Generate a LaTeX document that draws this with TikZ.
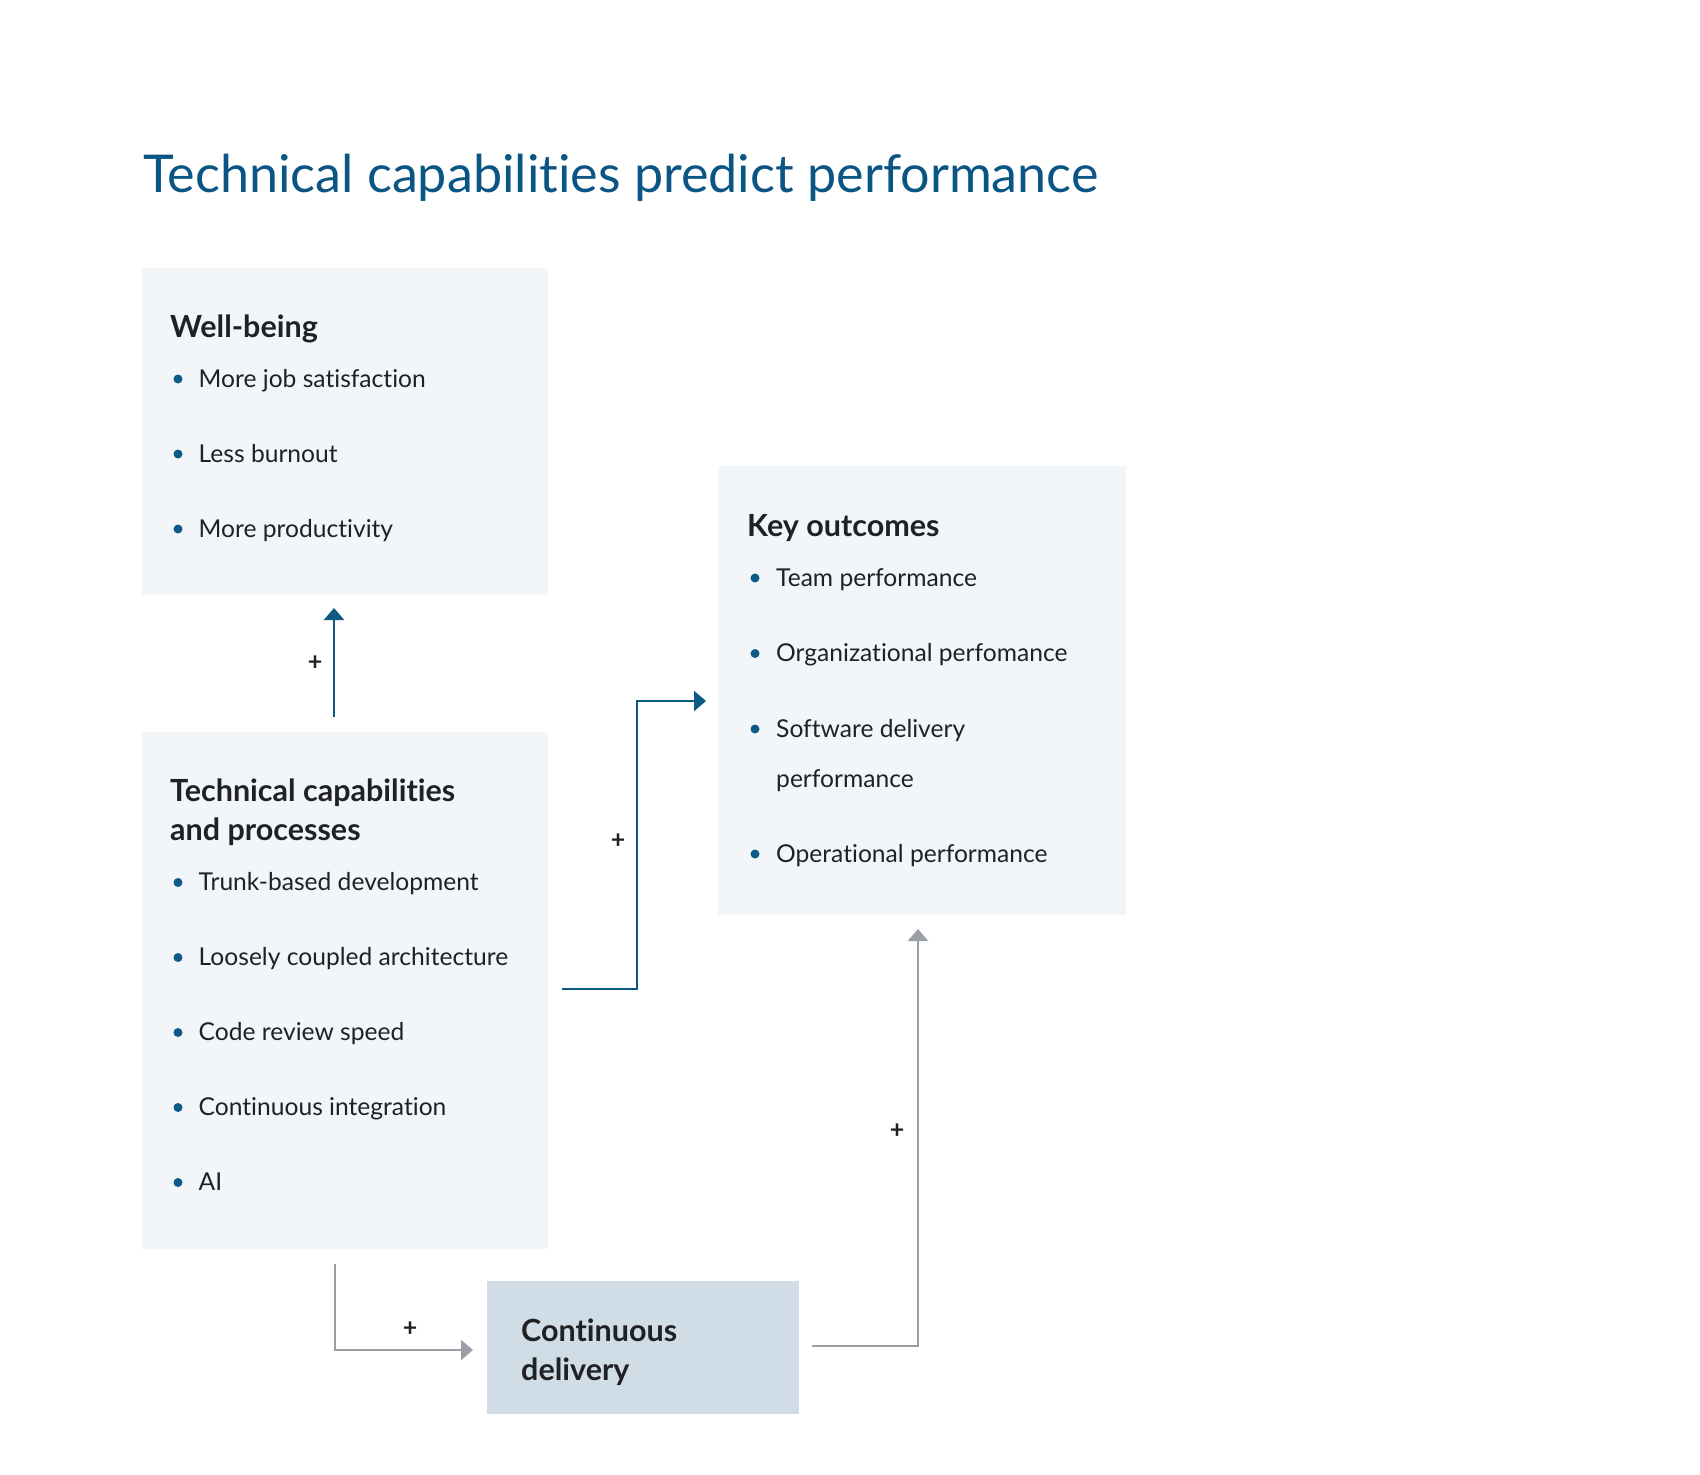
\documentclass[tikz,border=0pt]{standalone}
\usepackage{fontspec}
\setmainfont{Lato}[Ligatures={NoCommon,NoRare}]
\usetikzlibrary{arrows.meta,calc}
\definecolor{titleblue}{HTML}{0B5584}
\definecolor{inkdark}{HTML}{202124}
\definecolor{boxfill}{HTML}{F2F6F9}
\definecolor{cdfill}{HTML}{D0DDE6}
\definecolor{arrowblue}{HTML}{0E5A86}
\definecolor{arrowgray}{HTML}{9AA0A6}
\begin{document}
\begin{tikzpicture}[x=1pt,y=-1pt,
  panel/.style={fill=boxfill, draw=none, anchor=north west, inner sep=0pt, outer sep=0pt},
  head/.style={anchor=base west, inner sep=0pt, text=inkdark, font=\fontsize{30.5}{39}\selectfont\bfseries},
  item/.style={anchor=base west, inner sep=0pt, text=inkdark, font=\fontsize{24.6}{30}\selectfont},
  dot/.style={circle, fill=arrowblue, draw=none, inner sep=0pt, minimum size=9pt},
  plus/.style={text=inkdark, font=\fontsize{25}{25}\selectfont\bfseries, inner sep=0pt},
  bluearr/.style={draw=arrowblue, line width=2.5pt, -{Triangle[length=12pt,width=20pt]}},
  grayarr/.style={draw=arrowgray, line width=2.5pt, -{Triangle[length=12pt,width=20pt]}},
]
\useasboundingbox[fill=white] (0,0) rectangle (1700,1475);

% title
\node[anchor=base west, inner sep=0pt, text=titleblue, font=\fontsize{52.1}{56}\selectfont] (title) at (143,192) {Technical capabilities predict performance};

% panels
\node[panel, minimum width=406pt, minimum height=327pt] (wb) at (142,268) {};
\node[panel, minimum width=408pt, minimum height=449pt] (key) at (718,466) {};
\node[panel, minimum width=406pt, minimum height=517pt] (tech) at (142,732) {};
\node[panel, fill=cdfill, minimum width=312pt, minimum height=133pt] (cd) at (487,1281) {};

% Well-being
\node[head] (wbh) at (170,337) {Well-being};
\foreach \n/\y/\t in {1/387/More job satisfaction, 2/462/Less burnout, 3/537/More productivity}{
  \node[dot] (wbd\n) at (178,\y-8) {};
  \node[item] (wbi\n) at (198.5,\y) {\t};
}

% Key outcomes
\node[head] (keyh) at (747,536) {Key outcomes};
\foreach \n/\y/\t in {1/586/Team performance, 2/661.5/Organizational perfomance, 3/737/Software delivery, 4/862/Operational performance}{
  \node[dot] (keyd\n) at (755,\y-8) {};
  \node[item] (keyi\n) at (776,\y) {\t};
}
\node[item] (keyi3b) at (776,787) {performance};

% Technical capabilities
\node[head] (techh1) at (170,801) {Technical capabilities};
\node[head] (techh2) at (170,840) {and processes};
\foreach \n/\y/\t in {1/890.5/Trunk-based development, 2/965.5/Loosely coupled architecture, 3/1040.5/Code review speed, 4/1115.5/Continuous integration, 5/1190.5/AI}{
  \node[dot] (techd\n) at (178,\y-8) {};
  \node[item] (techi\n) at (198.5,\y) {\t};
}

% Continuous delivery
\node[head] (cdh1) at (521,1341) {Continuous};
\node[head] (cdh2) at (521,1380) {delivery};

% connectors
\coordinate (upx) at (334,0);
\draw[bluearr] ($(upx |- tech.north)+(0,-15)$) -- ($(upx |- wb.south)+(0,13)$);
\node[plus] (p1) at (315,663) {+};

\coordinate (j1) at (637,989);
\coordinate (j2) at (637,701);
\draw[bluearr] ($(tech.east |- j1)+(14,0)$) -- (j1) -- (j2) -- ($(key.west |- j2)+(-12,0)$);
\node[plus] (p2) at (618,841) {+};

\coordinate (g1) at (335,1350);
\draw[grayarr] ($(g1 |- tech.south)+(0,15)$) -- (g1) -- ($(cd.west |- g1)+(-14,0)$);
\node[plus] (p3) at (410,1329) {+};

\coordinate (g2) at (918,1346);
\draw[grayarr] ($(cd.east |- g2)+(13,0)$) -- (g2) -- ($(g2 |- key.south)+(0,14)$);
\node[plus] (p4) at (897,1131) {+};
\end{tikzpicture}
\end{document}
